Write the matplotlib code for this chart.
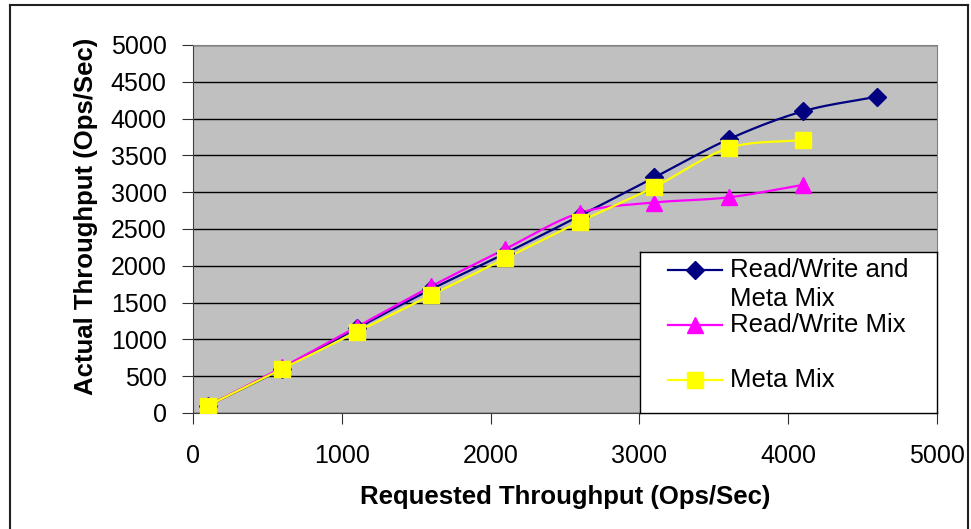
import numpy as np
import matplotlib
matplotlib.use("Agg")
import matplotlib.pyplot as plt
from matplotlib.lines import Line2D

plt.rcParams['font.family'] = ['Liberation Sans', 'DejaVu Sans']

requested = [100, 600, 1100, 1600, 2100, 2600, 3100, 3600, 4100, 4600]
rw_meta = [100, 600, 1150, 1680, 2170, 2680, 3200, 3720, 4100, 4300]
rw_only = [100, 620, 1170, 1720, 2230, 2720, 2860, 2930, 3100]
meta_only = [100, 600, 1100, 1600, 2100, 2600, 3070, 3600, 3710]
labels = [['Read/Write and', 'Meta Mix'], ['Read/Write Mix'], ['Meta Mix']]


def smooth(xs, ys, n=20):
    # Catmull-Rom curve through the points, like a smoothed line
    xs = np.asarray(xs, float)
    ys = np.asarray(ys, float)
    px = np.concatenate([[2 * xs[0] - xs[1]], xs, [2 * xs[-1] - xs[-2]]])
    py = np.concatenate([[2 * ys[0] - ys[1]], ys, [2 * ys[-1] - ys[-2]]])
    t = np.linspace(0, 1, n)
    ox, oy = [], []
    for i in range(1, len(px) - 2):
        for p, o in ((px, ox), (py, oy)):
            p0, p1, p2, p3 = p[i - 1], p[i], p[i + 1], p[i + 2]
            o.extend(0.5 * (2 * p1 + (-p0 + p2) * t
                            + (2 * p0 - 5 * p1 + 4 * p2 - p3) * t ** 2
                            + (-p0 + 3 * p1 - 3 * p2 + p3) * t ** 3))
    return ox, oy


W, H = 971, 529
fig = plt.figure(figsize=(W / 100, H / 100), dpi=100)

# outer chart border
for xs_, ys_ in (([10, 10], [0, 524]), ([10, 968], [524, 524]), ([968, 968], [0, 524])):
    fig.add_artist(Line2D(np.array(xs_) / W, np.array(ys_) / H, color='#202020', lw=1.5))

ax = fig.add_axes([193 / W, 116 / H, 744 / W, 368 / H])
ax.set_facecolor('#C0C0C0')

styles = [('#000080', 'D', 9), ('#FF00FF', '^', 11), ('#FFFF00', 's', 11)]
for ys, (col, mk, ms) in zip([rw_meta, rw_only, meta_only], styles):
    xs = requested[:len(ys)]
    sx, sy = smooth(xs, ys)
    ax.plot(sx, sy, color=col, lw=1.6, zorder=3)
    ax.plot(xs, ys, ls='none', marker=mk, ms=ms, color=col, zorder=4)

ax.set_xlim(0, 5000)
ax.set_ylim(0, 5000)
ax.set_xticks(range(0, 5001, 1000))
ax.set_yticks(range(0, 5001, 500))
ax.yaxis.grid(True, color='black', lw=1)
ax.set_axisbelow(True)
ax.tick_params(labelsize=18, direction='out', length=8, color='#303030')
ax.tick_params(axis='x', pad=14)
ax.tick_params(axis='y', pad=11)
for s in ('top', 'right'):
    ax.spines[s].set_color('#808080')
for s in ('left', 'bottom'):
    ax.spines[s].set_color('#404040')
ax.set_xlabel('Requested Throughput (Ops/Sec)', fontsize=18.5, fontweight='bold')
ax.set_ylabel('Actual Throughput (Ops/Sec)', fontsize=18.5, fontweight='bold')
ax.xaxis.set_label_coords(0.5, -0.196)
ax.yaxis.set_label_coords(-0.128, 0.533)

# legend box, laid out in pixel units
lg = fig.add_axes([640 / W, 116 / H, 297 / W, 161 / H])
lg.set_xlim(0, 297)
lg.set_ylim(161, 0)
lg.set_xticks([])
lg.set_yticks([])
lg.set_facecolor('white')
for s in lg.spines.values():
    s.set_color('black')
    s.set_linewidth(1)
rows = [18, 73, 128]
for y, (col, mk, ms), lab in zip(rows, styles, labels):
    lg.plot([28, 82], [y, y], color=col, lw=1.6)
    lg.plot([55], [y], ls='none', marker=mk, ms=ms, color=col)
    for k, line in enumerate(lab):
        lg.text(90, y + 29 * k, line, fontsize=18.5, va='center', ha='left')

fig.savefig('out.png', dpi=100)
